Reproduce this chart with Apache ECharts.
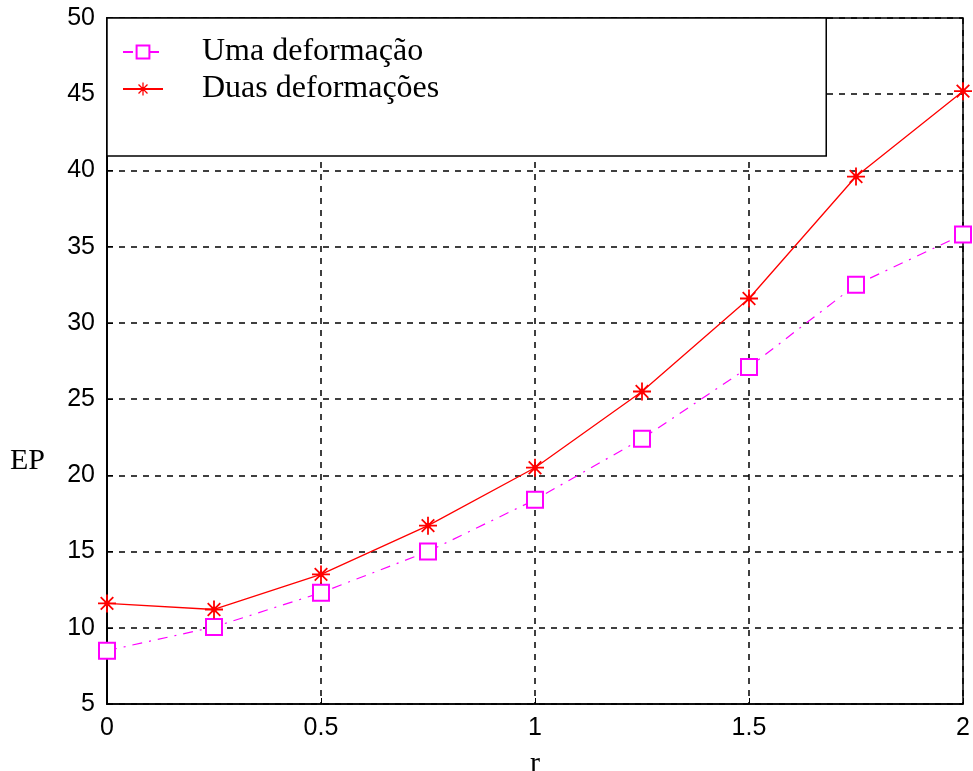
<!DOCTYPE html>
<html><head><meta charset="utf-8">
<script src="https://cdn.jsdelivr.net/npm/echarts@6/dist/echarts.min.js"></script>
<style>html,body{margin:0;padding:0;background:#fff}#c{width:973px;height:771px}</style>
</head><body><div id="c"></div>
<script>
const rValues = [0, 0.25, 0.5, 0.75, 1, 1.25, 1.5, 1.75, 2];
const umaValues = [8.5, 10.05, 12.3, 15.0, 18.4, 22.4, 27.1, 32.5, 35.8];
const duasValues = [11.6, 11.2, 13.5, 16.7, 20.5, 25.5, 31.6, 39.6, 45.2];
const seriesNames = ['Uma deformação', 'Duas deformações'];
const xAxisName = 'r';
const yAxisName = 'EP';

const starPath = 'path://M-1,-10L1,-10L1,10L-1,10Z M-10,-1L10,-1L10,1L-10,1Z ' +
  'M-7.7,-6.3L-6.3,-7.7L7.7,6.3L6.3,7.7Z M6.3,-7.7L7.7,-6.3L-6.3,7.7L-7.7,6.3Z ' +
  'M-3,-3L3,-3L3,3L-3,3Z';

const chart = echarts.init(document.getElementById('c'), null, {renderer: 'canvas'});
const tickFont = {fontFamily: 'Liberation Sans, Arial, sans-serif', fontSize: 25, color: '#000'};
const serif = 'Liberation Serif, Times New Roman, serif';
const gridLine = {show: true, lineStyle: {color: '#000', type: [6, 6], width: 1.5}};

chart.setOption({
  animation: false,
  backgroundColor: '#fff',
  grid: {left: 107, right: 10, top: 18, bottom: 67, containLabel: false, outerBoundsMode: 'none',
         show: true, borderColor: '#000', borderWidth: 1.5, backgroundColor: 'transparent'},
  graphic: [{
    type: 'text', left: 10, top: 446, z: 10,
    style: {text: yAxisName, fontFamily: serif, fontSize: 30, fill: '#000'}
  }],
  xAxis: {
    type: 'value', min: 0, max: 2, interval: 0.5,
    name: xAxisName, nameLocation: 'middle', nameGap: 45,
    nameTextStyle: {fontFamily: serif, fontSize: 30, color: '#000'},
    axisLine: {show: true, onZero: false, lineStyle: {color: '#000', width: 1.5}},
    axisTick: {show: true, inside: true, length: 6, lineStyle: {color: '#000'}},
    axisLabel: Object.assign({margin: 12}, tickFont),
    splitLine: gridLine
  },
  yAxis: {
    type: 'value', min: 5, max: 50, interval: 5,
    axisLine: {show: true, onZero: false, lineStyle: {color: '#000', width: 2}},
    axisTick: {show: true, inside: true, length: 6, lineStyle: {color: '#000'}},
    axisLabel: Object.assign({margin: 12}, tickFont),
    splitLine: gridLine
  },
  legend: {
    left: 107, top: 18, orient: 'vertical',
    backgroundColor: '#fff', borderColor: '#000', borderWidth: 1.5, borderRadius: 0,
    padding: [18, 387, 51, 15], itemGap: 5, itemWidth: 40, itemHeight: 16,
    textStyle: {fontFamily: serif, fontSize: 32, color: '#000', padding: [0, 0, 0, 34]},
    data: seriesNames
  },
  series: [
    {
      name: seriesNames[0], type: 'line',
      data: rValues.map((r, i) => [r, umaValues[i]]),
      symbol: 'emptyRect', symbolSize: 16, showAllSymbol: true,
      lineStyle: {color: '#ff00ff', width: 1.2, type: [10, 7, 2, 7]},
      itemStyle: {color: '#ff00ff', borderColor: '#ff00ff', borderWidth: 1.5},
      z: 3
    },
    {
      name: seriesNames[1], type: 'line',
      data: rValues.map((r, i) => [r, duasValues[i]]),
      symbol: starPath, symbolSize: 18,
      lineStyle: {color: '#ff0000', width: 1.3, type: 'solid'},
      itemStyle: {color: '#ff0000', borderWidth: 0},
      z: 3
    }
  ]
});
</script></body></html>
